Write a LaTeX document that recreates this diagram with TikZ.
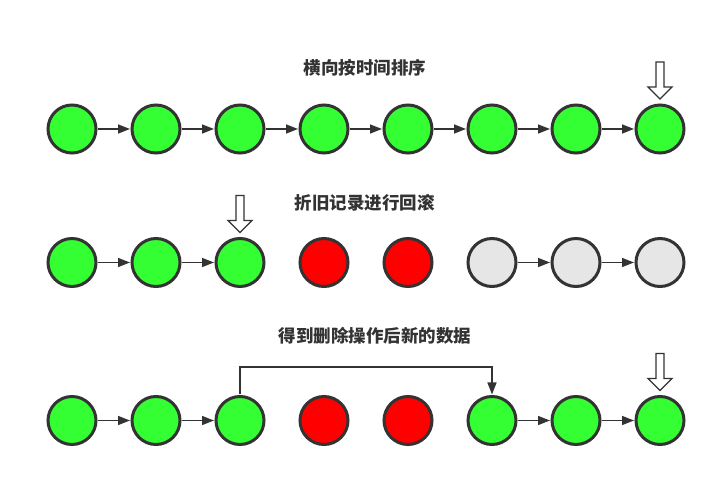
\documentclass[tikz,border=0pt]{standalone}
\usepackage{fontspec}
\newfontfamily\cjk{Noto Sans CJK SC}
\usetikzlibrary{arrows.meta}
\definecolor{ink}{HTML}{333333}
\definecolor{cgreen}{HTML}{33FF33}
\definecolor{cred}{HTML}{FF0000}
\definecolor{cgray}{HTML}{E6E6E6}
\tikzset{
  rec/.style={circle, draw=ink, line width=3pt, minimum size=48pt, inner sep=0pt},
  ok/.style={rec, fill=cgreen},
  bad/.style={rec, fill=cred},
  old/.style={rec, fill=cgray},
  link/.style={draw=ink, line width=1.6pt, -{Triangle[length=12pt,width=9pt]}, shorten >=0.5pt, shorten <=0.5pt},
  title/.style={font=\cjk\bfseries\fontsize{17.5pt}{20pt}\selectfont, text=ink},
  pointer/.style={draw=ink, line width=1.4pt, fill=white, line join=miter}
}
\newcommand{\hollowdown}[1]{%
  \draw[pointer] ([shift={(-4,67)}]#1.center) -- ([shift={(4,67)}]#1.center)
    -- ([shift={(4,42)}]#1.center) -- ([shift={(12,42)}]#1.center)
    -- ([shift={(0,30)}]#1.center) -- ([shift={(-12,42)}]#1.center)
    -- ([shift={(-4,42)}]#1.center) -- cycle;}
\begin{document}
\begin{tikzpicture}[x=1pt,y=1pt]
\useasboundingbox[fill=white] (0,0) rectangle (716,477);
% titles
\node[title] (t1) at (365,409) {横向按时间排序};
\node[title] (t2) at (364.5,274) {折旧记录进行回滚};
\node[title] (t3) at (375,141) {得到删除操作后新的数据};
% row 1
\foreach \i in {1,...,8} {
  \node[ok] (a\i) at ({72+84*(\i-1)},348) {};
}
\foreach \i [evaluate=\i as \j using int(\i+1)] in {1,...,7} {
  \draw[link] (a\i) -- (a\j);
}
\hollowdown{a8}
% row 2
\node[ok] (b1) at (72,214.5) {};
\node[ok] (b2) at (156,214.5) {};
\node[ok] (b3) at (240,214.5) {};
\node[bad] (b4) at (324,214.5) {};
\node[bad] (b5) at (408,214.5) {};
\node[old] (b6) at (492,214.5) {};
\node[old] (b7) at (576,214.5) {};
\node[old] (b8) at (660,214.5) {};
\draw[link] (b1) -- (b2);
\draw[link] (b2) -- (b3);
\draw[link] (b6) -- (b7);
\draw[link] (b7) -- (b8);
\hollowdown{b3}
% row 3
\node[ok] (c1) at (72,56.5) {};
\node[ok] (c2) at (156,56.5) {};
\node[ok] (c3) at (240,56.5) {};
\node[bad] (c4) at (324,56.5) {};
\node[bad] (c5) at (408,56.5) {};
\node[ok] (c6) at (492,56.5) {};
\node[ok] (c7) at (576,56.5) {};
\node[ok] (c8) at (660,56.5) {};
\draw[link] (c1) -- (c2);
\draw[link] (c2) -- (c3);
\draw[link] (c6) -- (c7);
\draw[link] (c7) -- (c8);
\coordinate (k1) at (240,110);
\coordinate (k2) at (492,110);
\draw[link, line join=miter] (c3.north) -- (k1) -- (k2) -- (c6.north);
\hollowdown{c8}
\end{tikzpicture}
\end{document}
